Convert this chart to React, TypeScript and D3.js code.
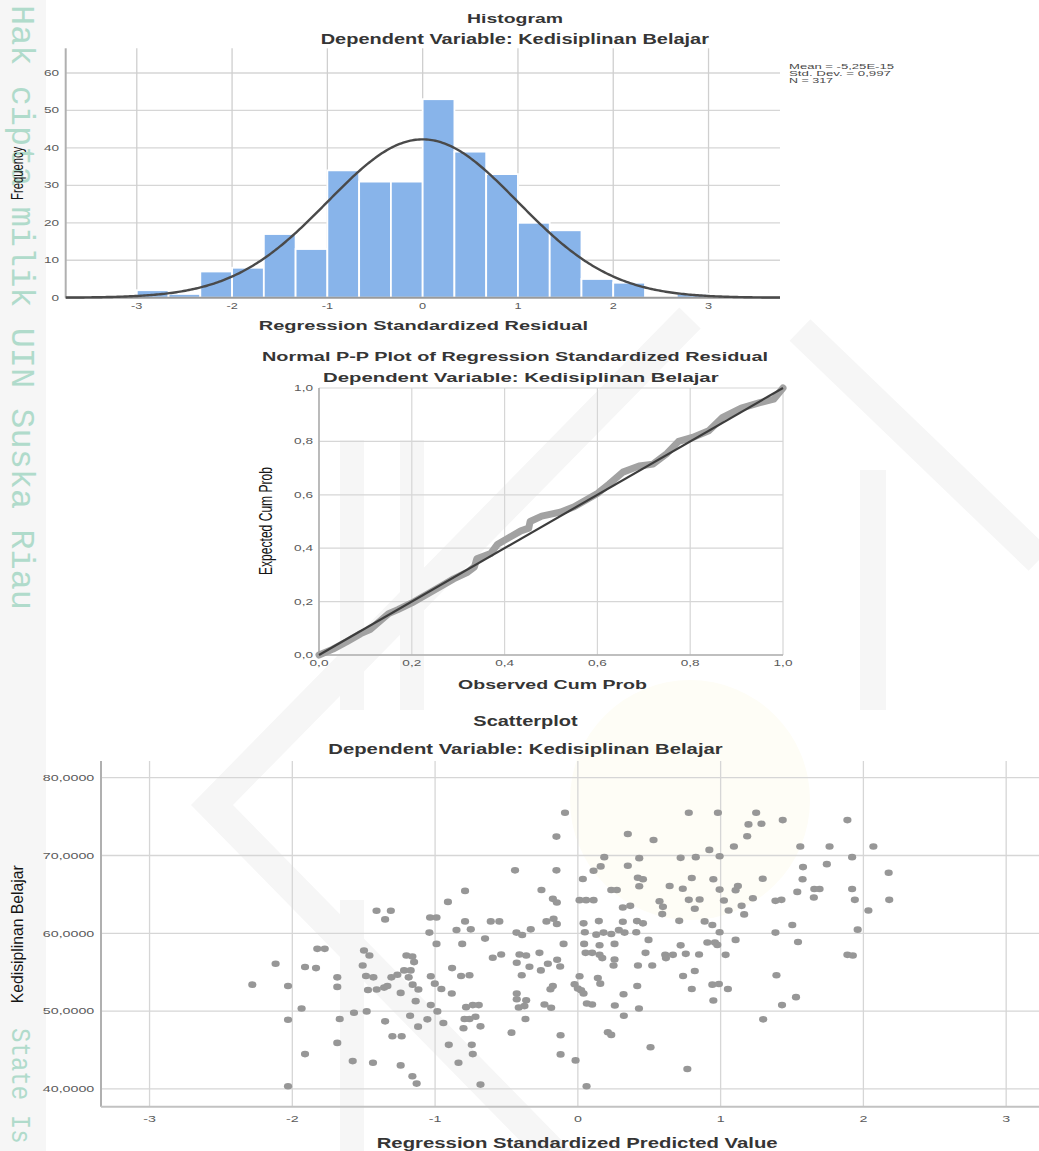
import React from 'react';
import * as d3 from 'd3';

// ---------------- DATA ----------------
// Histogram (Regression Standardized Residual)
const histBinEdges = [-3, -2.6667, -2.3333, -2, -1.6667, -1.3333, -1, -0.6667, -0.3333, 0, 0.3333, 0.6667, 1, 1.3333, 1.6667, 2, 2.3333, 2.6667, 3];
const histCounts = [2, 1, 7, 8, 17, 13, 34, 31, 31, 53, 39, 33, 20, 18, 5, 4, 0, 1];
const histMean = -5.25e-15;
const histStdDev = 0.997;
const histN = 317;
const histStatLines = ['Mean = -5,25E-15', 'Std. Dev. = 0,997', 'N = 317'];
const histXTicks = [-3, -2, -1, 0, 1, 2, 3];
const histYTicks = [0, 10, 20, 30, 40, 50, 60];

// Normal P-P plot (observed vs expected cumulative probability)
const ppObserved = [0, 0.03, 0.06, 0.09, 0.11, 0.13, 0.15, 0.17, 0.2, 0.23, 0.26, 0.29, 0.32, 0.335, 0.34, 0.37, 0.385, 0.41, 0.435, 0.452, 0.455, 0.48, 0.52, 0.55, 0.6, 0.625, 0.655, 0.69, 0.72, 0.75, 0.775, 0.805, 0.84, 0.87, 0.91, 0.95, 0.98, 1.0];
const ppExpected = [0, 0.022, 0.05, 0.08, 0.095, 0.125, 0.155, 0.17, 0.195, 0.225, 0.255, 0.285, 0.31, 0.33, 0.36, 0.38, 0.415, 0.44, 0.465, 0.475, 0.5, 0.52, 0.535, 0.555, 0.605, 0.64, 0.685, 0.708, 0.715, 0.755, 0.8, 0.815, 0.84, 0.89, 0.925, 0.945, 0.958, 1.0];
const ppTicks = [0, 0.2, 0.4, 0.6, 0.8, 1.0];

// Scatterplot: [standardized predicted value, Kedisiplinan Belajar]
const scatterPoints: [number, number][] = [
  [-1.41, 62.89], [-1.31, 62.89], [-1.35, 61.79], [-0.91, 64.04], [-1.035, 62.04], [-0.99, 62.04], [-1.04, 60.09], [-0.85, 60.43], [-0.99, 58.64],
  [-0.09, 75.49], [-0.15, 72.43], [-0.44, 68.09], [-0.15, 68.09], [-0.79, 65.45], [-0.255, 65.57], [-0.175, 64.43], [-0.147, 63.96], [-0.79, 61.53], [-0.61, 61.53], [-0.55, 61.53], [-0.75, 60.51], [-0.43, 60.09], [-0.39, 59.79], [-0.33, 60.51], [-0.22, 61.53], [-0.17, 61.87], [-0.147, 61.19], [-0.65, 59.32], [-0.81, 58.64], [-0.1, 58.64],
  [0.035, 66.98], [0.11, 68.04], [0.16, 68.6], [0.185, 69.79], [0.35, 72.77], [0.53, 72.0], [0.43, 69.66], [0.35, 68.68],
  [0.42, 67.15], [0.456, 66.94], [0.43, 66.04], [0.234, 65.57], [0.273, 65.57], [0.643, 66.09],
  [0.012, 64.26], [0.058, 64.26], [0.11, 64.26], [0.315, 63.32], [0.367, 63.53], [0.572, 64.13], [0.596, 63.4], [0.591, 62.47],
  [0.04, 61.28], [0.147, 61.57], [0.315, 61.49], [0.414, 61.57], [0.456, 61.28], [0.049, 60.13], [0.129, 59.83], [0.18, 60.09], [0.234, 59.91], [0.287, 60.43], [0.327, 60.09], [0.409, 60.13], [0.495, 59.15], [0.044, 58.64], [0.152, 58.47], [0.257, 58.64], [0.72, 58.45],
  [0.777, 75.49], [0.981, 75.49], [1.249, 75.49], [1.195, 74.0], [1.286, 74.09], [1.435, 74.55], [1.888, 74.55], [1.186, 72.47], [0.921, 70.72], [1.093, 71.15], [1.558, 71.15], [1.763, 71.15], [2.07, 71.15],
  [0.72, 69.7], [0.826, 69.79], [0.993, 69.91], [1.921, 69.79], [1.744, 68.89], [1.577, 68.51], [2.177, 67.79], [0.798, 67.11], [0.949, 66.94], [1.295, 67.02], [1.574, 66.94],
  [0.735, 65.72], [0.993, 65.62], [1.105, 65.53], [1.121, 66.09], [1.537, 65.32], [1.656, 65.7], [1.693, 65.7], [1.921, 65.7],
  [0.777, 64.3], [0.853, 64.34], [1.023, 64.21], [1.226, 64.51], [1.384, 64.17], [1.426, 64.3], [1.653, 64.6], [1.94, 64.3], [2.181, 64.3],
  [0.819, 63.15], [1.056, 62.94], [1.147, 63.53], [1.165, 62.43], [2.035, 62.94], [0.71, 61.6], [0.888, 61.53], [0.942, 61.06], [1.502, 61.06], [0.993, 60.13], [1.384, 60.09], [1.96, 60.47],
  [0.907, 58.81], [0.96, 58.81], [0.977, 58.51], [1.105, 59.15], [1.542, 58.89],
  [-1.825, 58.0], [-1.773, 58.0], [-1.498, 57.79], [-1.46, 57.15], [-1.201, 57.15], [-1.159, 57.02], [-1.147, 56.3], [-2.117, 56.09], [-1.911, 55.66], [-1.834, 55.53], [-1.507, 55.87], [-1.217, 55.23], [-1.171, 55.23], [-0.881, 55.53], [-1.685, 54.34], [-1.484, 54.51], [-1.432, 54.34], [-1.306, 54.34], [-1.264, 54.68], [-1.185, 54.34], [-1.03, 54.47],
  [-2.28, 53.4], [-2.03, 53.23], [-1.685, 53.11], [-1.47, 52.72], [-1.409, 52.77], [-1.357, 53.02], [-1.334, 53.23], [-1.157, 53.4], [-1.117, 52.77], [-1.002, 53.53], [-0.956, 52.85],
  [-1.241, 52.34], [-0.883, 52.26], [-1.136, 51.28], [-1.03, 50.77], [-1.935, 50.34], [-0.984, 49.96], [-2.03, 48.89], [-1.668, 48.98], [-1.568, 49.79], [-1.479, 49.96], [-1.35, 48.68], [-1.175, 49.4], [-1.119, 48.0], [-1.054, 48.94], [-0.942, 48.47],
  [-1.299, 46.77], [-1.234, 46.77], [-1.685, 45.91], [-0.904, 45.66], [-1.911, 44.47], [-1.577, 43.57], [-1.435, 43.36], [-1.241, 43.02], [-0.836, 43.36], [-1.159, 41.62], [-1.129, 40.68], [-2.03, 40.34],
  [-0.596, 56.85], [-0.537, 57.28], [-0.409, 57.28], [-0.362, 57.15], [-0.269, 57.49], [-0.428, 56.21], [-0.339, 55.7], [-0.259, 55.23], [-0.21, 56.09], [-0.145, 56.6], [-0.124, 55.74], [-0.818, 54.51], [-0.759, 54.6], [-0.393, 54.6], [0.012, 54.47],
  [-0.192, 52.81], [-0.175, 53.23], [-0.023, 53.45], [0.0, 52.89], [0.023, 52.68], [0.04, 52.26], [-0.428, 52.26], [-0.428, 51.53], [-0.362, 51.4], [-0.414, 50.47], [-0.374, 50.64], [-0.234, 50.85], [-0.187, 50.43],
  [-0.783, 50.51], [-0.736, 50.77], [-0.694, 50.77], [-0.794, 48.98], [-0.759, 48.98], [-0.717, 49.28], [-0.801, 47.79], [-0.682, 48.04], [-0.367, 48.98], [-0.465, 47.23], [-0.121, 46.89], [-0.743, 45.66], [-0.736, 44.47], [-0.121, 44.43], [-0.016, 43.66], [-0.682, 40.55], [0.061, 40.34],
  [0.054, 57.49], [0.1, 57.49], [0.152, 57.23], [0.171, 56.81], [0.257, 56.64], [0.25, 55.87], [0.421, 55.87], [0.521, 55.87], [0.474, 57.49], [0.612, 57.23], [0.666, 57.23], [0.617, 56.81],
  [0.14, 54.26], [0.157, 53.53], [0.416, 53.23], [0.32, 52.17], [0.063, 50.98], [0.1, 50.85], [0.259, 50.72], [0.428, 50.34], [0.322, 49.4], [0.21, 47.28], [0.234, 46.94], [0.509, 45.36],
  [0.756, 57.36], [0.849, 57.28], [1.035, 57.23], [1.888, 57.23], [1.926, 57.15], [0.819, 55.15], [0.737, 54.51], [1.391, 54.6], [0.798, 52.85], [0.942, 53.4], [0.988, 53.49], [1.051, 52.85], [0.949, 51.36], [1.43, 50.77], [1.528, 51.79], [1.298, 48.94], [0.767, 42.55],
];
const scatterXTicks = [-3, -2, -1, 0, 1, 2, 3];
const scatterYTicks = [40, 50, 60, 70, 80];

// ---------------- STYLE ----------------
const FONT = "'Liberation Sans', Arial, sans-serif";
const MONO = "'Liberation Mono', 'DejaVu Sans Mono', monospace";
const GRID = '#d6d6d6';
const AXIS = '#b0b0b0';
const TITLE = '#353535';
const TICK = '#5a5a5a';
const WM = '#f6f6f6';

const comma = (v: number, d: number) => v.toFixed(d).replace('.', ',');

function ST(props: { x: number; y: number; sx?: number; anchor?: string; size: number; fill?: string; weight?: string; children: React.ReactNode }) {
  const { x, y, sx = 1.5, anchor = 'middle', size, fill = TICK, weight = 'normal', children } = props;
  return (
    <text transform={`translate(${x},${y}) scale(${sx},1)`} textAnchor={anchor as any} fontSize={size} fontFamily={FONT} fill={fill} fontWeight={weight}>
      {children}
    </text>
  );
}

function TL(props: { x1: number; x2: number; y: number; size: number; fill?: string; weight?: string; children: React.ReactNode }) {
  const { x1, x2, y, size, fill = TITLE, weight = 'bold', children } = props;
  return (
    <text x={x1} y={y} textLength={x2 - x1} lengthAdjust="spacingAndGlyphs" fontSize={size} fontFamily={FONT} fill={fill} fontWeight={weight}>
      {children}
    </text>
  );
}

function VL(props: { x: number; yStart: number; len: number; size: number; children: React.ReactNode }) {
  const { x, yStart, len, size, children } = props;
  return (
    <text transform={`translate(${x},${yStart}) rotate(-90)`} textLength={len} lengthAdjust="spacingAndGlyphs" fontSize={size} fontFamily={FONT} fill="#151515">
      {children}
    </text>
  );
}

export default function App() {
  // Histogram scales
  const hx = d3.scaleLinear().domain([-3.746, 3.75]).range([65.7, 780]);
  const hy = d3.scaleLinear().domain([0, 66.59]).range([297.7, 48.3]);
  const binW = histBinEdges[1] - histBinEdges[0];
  const pdf = (x: number) => Math.exp(-0.5 * ((x - histMean) / histStdDev) ** 2) / (histStdDev * Math.sqrt(2 * Math.PI));
  const [hx0, hx1] = hx.domain();
  const curveXs = d3.range(0, 401).map((i) => hx0 + (i * (hx1 - hx0)) / 400);
  const normalPath = d3.line<number>().x((d) => hx(d)).y((d) => hy(histN * binW * pdf(d)))(curveXs) || '';

  // P-P scales
  const px = d3.scaleLinear().domain([0, 1]).range([319, 783]);
  const py = d3.scaleLinear().domain([0, 1]).range([655, 388]);
  const ppPath = d3.line<number>().x((d, i) => px(ppObserved[i])).y((d) => py(d))(ppExpected) || '';

  // Scatter scales
  const sx = d3.scaleLinear().domain([-3.34, 3.23]).range([101, 1039]);
  const sy = d3.scaleLinear().domain([37.71, 82.15]).range([1106.7, 761]);

  return (
    <svg width={1039} height={1151} style={{ position: 'absolute', left: 0, top: 0, background: '#fff' }}>
      <rect x={0} y={0} width={1039} height={1151} fill="#fff" />
      {/* very faint watermark */}
      <g>
        <circle cx={690} cy={800} r={120} fill="#fefdf6" />
        <path d="M 690 318 L 212 805 L 560 1160" fill="none" stroke={WM} strokeWidth={30} />
        <path d="M 1039 560 L 800 330" fill="none" stroke={WM} strokeWidth={30} />
        <rect x={340} y={440} width={24} height={270} fill={WM} />
        <rect x={400} y={440} width={24} height={270} fill={WM} />
        <rect x={340} y={900} width={24} height={251} fill={WM} />
        <rect x={860} y={470} width={26} height={240} fill={WM} />
      </g>
      {/* left strip with vertical text */}
      <rect x={0} y={0} width={46} height={1151} fill="#f6f6f6" />
      <text transform="translate(12,5) rotate(90)" fontFamily={MONO} fontSize={34} fill="#b0dbcb" textLength={605} lengthAdjust="spacingAndGlyphs">
        Hak cipta milik UIN Suska Riau
      </text>
      <text transform="translate(12,1028) rotate(90) scale(0.86,1)" fontFamily={MONO} fontSize={28} fill="#b0dbcb">
        State Is
      </text>

      {/* ================= HISTOGRAM ================= */}
      <g>
        {histYTicks.filter((t) => t > 0).map((t) => (
          <line key={'hg' + t} x1={hx.range()[0]} x2={hx.range()[1]} y1={hy(t)} y2={hy(t)} stroke={GRID} strokeWidth={1.3} />
        ))}
        {histXTicks.map((t) => (
          <line key={'hv' + t} x1={hx(t)} x2={hx(t)} y1={48.3} y2={297.7} stroke={'#cfcfcf'} strokeWidth={1.3} />
        ))}
        {histCounts.map((c, i) =>
          c > 0 ? (
            <rect key={'b' + i} x={hx(histBinEdges[i])} width={hx(histBinEdges[i + 1]) - hx(histBinEdges[i])} y={hy(c)} height={hy(0) - hy(c)} fill="#88b4ea" stroke="#fff" strokeWidth={1.8} />
          ) : null
        )}
        <line x1={65.7} x2={65.7} y1={48.3} y2={297.7} stroke={AXIS} strokeWidth={2} />
        <line x1={65.7} x2={780} y1={297.7} y2={297.7} stroke={'#9a9a9a'} strokeWidth={2} />
        <path d={normalPath} fill="none" stroke="#4a4a4a" strokeWidth={2.4} />
        {histYTicks.map((t) => (
          <ST key={'hyt' + t} x={59} y={hy(t) + 3} anchor="end" size={8.5} sx={1.6}>{String(t)}</ST>
        ))}
        {histXTicks.map((t) => (
          <ST key={'hxt' + t} x={hx(t)} y={309} size={8.5} sx={1.5}>{String(t)}</ST>
        ))}
        <TL x1={467} x2={563} y={23.3} size={13}>Histogram</TL>
        <TL x1={320.7} x2={709} y={44} size={14.5}>Dependent Variable: Kedisiplinan Belajar</TL>
        <TL x1={258.7} x2={588} y={330} size={12.8}>Regression Standardized Residual</TL>
        <VL x={23} yStart={200} len={53.3} size={17}>Frequency</VL>
        {histStatLines.map((s, i) => (
          <text key={'st' + i} x={789} y={68.5 + i * 7.3} fontSize={7.5} fontFamily={FONT} fill="#4a4a4a" textLength={[105, 102, 44][i]} lengthAdjust="spacingAndGlyphs">
            {s}
          </text>
        ))}
      </g>

      {/* ================= P-P PLOT ================= */}
      <g>
        {ppTicks.map((t) => (
          <line key={'pg' + t} x1={319} x2={783} y1={py(t)} y2={py(t)} stroke={GRID} strokeWidth={1.2} />
        ))}
        {ppTicks.map((t) => (
          <line key={'pv' + t} x1={px(t)} x2={px(t)} y1={388} y2={655} stroke={GRID} strokeWidth={1.2} />
        ))}
        <line x1={319} x2={319} y1={388} y2={655} stroke={AXIS} strokeWidth={1.6} />
        <line x1={319} x2={783} y1={655} y2={655} stroke={AXIS} strokeWidth={1.6} />
        <path d={ppPath} fill="none" stroke="#a2a2a2" strokeWidth={7} strokeLinecap="round" strokeLinejoin="round" />
        <line x1={px(0)} y1={py(0)} x2={px(1)} y2={py(1)} stroke="#3c3c3c" strokeWidth={2.2} />
        {ppTicks.map((t) => (
          <ST key={'pyt' + t} x={313} y={py(t) + 3} anchor="end" size={8.5} sx={1.6}>{comma(t, 1)}</ST>
        ))}
        {ppTicks.map((t) => (
          <ST key={'pxt' + t} x={px(t)} y={665.7} size={8.5} sx={1.6}>{comma(t, 1)}</ST>
        ))}
        <TL x1={262} x2={768} y={360.7} size={12.8}>Normal P-P Plot of Regression Standardized Residual</TL>
        <TL x1={323} x2={718.6} y={382.3} size={13.5}>Dependent Variable: Kedisiplinan Belajar</TL>
        <TL x1={458} x2={647} y={689} size={13.5}>Observed Cum Prob</TL>
        <VL x={272} yStart={575} len={108} size={18}>Expected Cum Prob</VL>
      </g>

      {/* ================= SCATTERPLOT ================= */}
      <g>
        {scatterYTicks.map((t) => (
          <line key={'sg' + t} x1={101} x2={1039} y1={sy(t)} y2={sy(t)} stroke={GRID} strokeWidth={1.3} />
        ))}
        {scatterXTicks.map((t) => (
          <line key={'sv' + t} x1={sx(t)} x2={sx(t)} y1={761} y2={1106.7} stroke={GRID} strokeWidth={1.3} />
        ))}
        <line x1={101} x2={101} y1={761} y2={1106.7} stroke={AXIS} strokeWidth={2} />
        <line x1={101} x2={1039} y1={1106.7} y2={1106.7} stroke={'#c2c2c2'} strokeWidth={2} />
        {scatterPoints.map((p, i) => (
          <ellipse key={'p' + i} cx={sx(p[0])} cy={sy(p[1])} rx={4.1} ry={3.3} fill="#979797" />
        ))}
        {scatterYTicks.map((t) => (
          <ST key={'syt' + t} x={94.3} y={sy(t) + 3.4} anchor="end" size={9.5} sx={1.5}>{comma(t, 4)}</ST>
        ))}
        {scatterXTicks.map((t) => (
          <ST key={'sxt' + t} x={sx(t)} y={1121.7} size={9.5} sx={1.5}>{String(t)}</ST>
        ))}
        <TL x1={473.3} x2={577.7} y={726} size={15}>Scatterplot</TL>
        <TL x1={328.3} x2={722.7} y={754.3} size={15}>Dependent Variable: Kedisiplinan Belajar</TL>
        <TL x1={376.7} x2={777.7} y={1148} size={14.5}>Regression Standardized Predicted Value</TL>
        <VL x={23} yStart={1003.3} len={138} size={17}>Kedisiplinan Belajar</VL>
      </g>
    </svg>
  );
}
